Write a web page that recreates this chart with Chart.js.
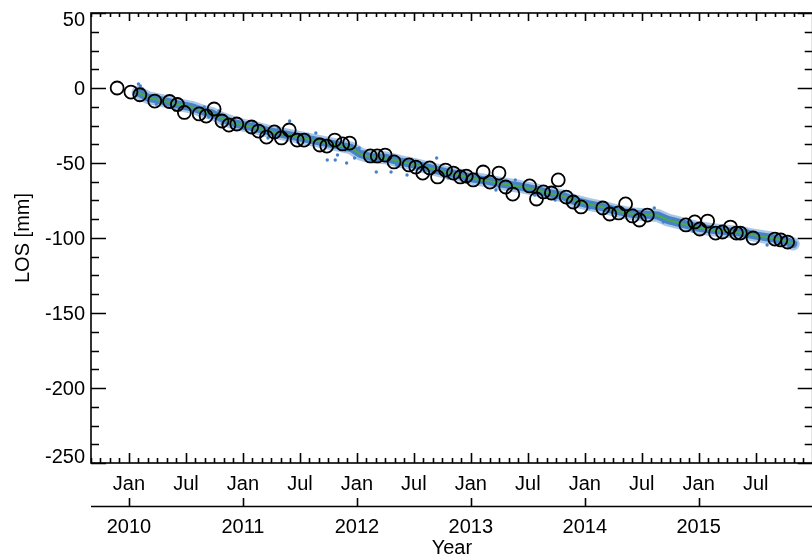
<!DOCTYPE html>
<html lang="en">
<head>
  <meta charset="UTF-8" />
  <title>LOS displacement</title>
  <style>
    html, body {
      margin: 0;
      padding: 0;
      background: #fff;
      overflow: hidden;
    }
    #wrap {
      width: 821px;
      height: 557px;
    }
  </style>
</head>
<body>
  <div id="wrap"><canvas id="chart" width="821" height="557"></canvas></div>

  <script src="https://cdn.jsdelivr.net/npm/chart.js"></script>
  <script>
    // axis ranges and tick labels
    const xMin = (2009 * 12 + 8) / 12;   // Sep 2009
    const xMax = 2016;
    const yMin = -250;
    const yMax = 50;
    const yTicks = [-250, -200, -150, -100, -50, 0, 50];
    const tickYears = [2010, 2011, 2012, 2013, 2014, 2015];
    const halfYearLabels = ['Jan', 'Jul'];

    // black circles (decimal year, mm)
    const circleYears = [
      2009.896, 2010.017, 2010.095, 2010.226, 2010.356, 2010.425, 2010.486, 2010.616, 2010.677, 2010.747,
      2010.816, 2010.877, 2010.946, 2011.076, 2011.137, 2011.207, 2011.276, 2011.337, 2011.406, 2011.476,
      2011.536, 2011.675, 2011.736, 2011.806, 2011.875, 2011.936, 2012.118, 2012.179, 2012.248, 2012.326,
      2012.457, 2012.517, 2012.578, 2012.639, 2012.708, 2012.778, 2012.847, 2012.908, 2012.960, 2013.021,
      2013.108, 2013.168, 2013.247, 2013.306, 2013.368, 2013.516, 2013.576, 2013.637, 2013.707, 2013.767,
      2013.837, 2013.898, 2013.967, 2014.158, 2014.219, 2014.297, 2014.358, 2014.418, 2014.479, 2014.549,
      2014.887, 2014.965, 2015.009, 2015.078, 2015.148, 2015.208, 2015.278, 2015.330, 2015.365, 2015.477,
      2015.668, 2015.720, 2015.780
    ];
    const circleValues = [
      0, -2.7, -4.5, -8.7, -9, -11, -16.3, -17.3, -18.7, -14,
      -22, -24.7, -24, -26, -28.7, -32.7, -29.3, -33.3, -28, -34.7,
      -34.7, -38, -38.7, -34.7, -37.3, -36.7, -45.3, -45.3, -44.7, -49.3,
      -51.3, -52.7, -56.7, -53.3, -59.3, -54.7, -56.7, -59.3, -58.7, -61.3,
      -56, -62.7, -56.7, -66, -70.7, -65.3, -74, -69.3, -70, -61.3,
      -72.7, -76, -79.3, -80, -84, -83.3, -77.3, -85.3, -88, -84.7,
      -91.3, -89.3, -94, -88.7, -96.7, -96, -92.7, -96.7, -96.7, -100,
      -100.7, -101.3, -102.7
    ];

    // smoothed trend (green) and blue band centre
    const trendYears = [
      2010.08, 2010.17, 2010.30, 2010.43, 2010.56, 2010.65, 2010.73, 2010.82, 2010.95, 2011.08,
      2011.21, 2011.34, 2011.47, 2011.60, 2011.73, 2011.86, 2011.95, 2012.03, 2012.12, 2012.25,
      2012.38, 2012.51, 2012.64, 2012.77, 2012.90, 2013.03, 2013.16, 2013.29, 2013.42, 2013.55,
      2013.68, 2013.81, 2013.90, 2014.03, 2014.16, 2014.29, 2014.42, 2014.55, 2014.64, 2014.73,
      2014.86, 2014.99, 2015.12, 2015.25, 2015.38, 2015.51, 2015.64, 2015.77, 2015.83
    ];
    const trendValues = [
      -3, -6.5, -8.5, -11, -13, -15.5, -17, -20.5, -24, -26,
      -28.5, -30.5, -32.5, -34.5, -36.5, -38.5, -40, -44, -46, -46.5,
      -49, -51, -53.5, -56, -58, -60.5, -62, -64, -65.5, -67.5,
      -70, -72, -75, -77.5, -79.5, -82, -84, -84.5, -85, -88,
      -90.5, -93, -94.5, -95.5, -96.5, -98.5, -100, -102, -104
    ];

    // scattered blue samples lying off the band
    const blueYears = [
      2010.083, 2010.10, 2010.12, 2010.14, 2010.24, 2010.33, 2010.40, 2010.51, 2010.66, 2010.70,
      2010.79, 2010.82, 2010.92, 2011.00, 2011.09, 2011.15, 2011.22, 2011.31, 2011.41, 2011.48,
      2011.57, 2011.64, 2011.74, 2011.81, 2011.83, 2011.90, 2011.91, 2011.98, 2012.02, 2012.06,
      2012.17, 2012.30, 2012.35, 2012.44, 2012.70, 2012.80, 2012.96, 2013.22, 2013.39, 2013.56,
      2013.74, 2013.91, 2014.04, 2014.43, 2014.61, 2014.69, 2014.95, 2015.43, 2015.60, 2015.79
    ];
    const blueValues = [
      2.7, 1.3, -0.7, -6, -10.7, -8, -14.7, -10.7, -12.7, -19.3,
      -15.3, -24, -21.3, -26.7, -23.3, -25.3, -33.3, -26.7, -22, -36,
      -31.3, -30, -48, -48, -44.7, -41.3, -50, -46.7, -40, -42.7,
      -56, -56, -51.3, -58, -46.7, -60, -62, -68, -61.3, -71.3,
      -74.7, -73.3, -80, -81.3, -80, -89.3, -95.3, -95.3, -104.7, -106
    ];

    const toPoints = (xs, ys) => xs.map((x, i) => ({ x: x, y: ys[i] }));

    const FONT = '20px "Liberation Sans", Arial, Helvetica, sans-serif';

    // IDL style axes: inward ticks on all sides, second year axis below
    const axesPlugin = {
      id: 'idlAxes',
      afterDraw(chart) {
        const ctx = chart.ctx;
        const a = chart.chartArea;
        const xs = chart.scales.x;
        const ys = chart.scales.y;
        ctx.save();
        ctx.strokeStyle = '#000';
        ctx.fillStyle = '#000';
        ctx.lineWidth = 1.6;
        ctx.strokeRect(a.left, a.top, a.right - a.left, a.bottom - a.top);

        ctx.beginPath();
        // y ticks, minor every 12.5
        for (let k = 0; k <= (yMax - yMin) / 12.5; k++) {
          const v = yMin + k * 12.5;
          const major = v % 50 === 0;
          const len = major ? 15 : 8;
          const py = Math.round(ys.getPixelForValue(v)) + 0.5;
          ctx.moveTo(a.left, py); ctx.lineTo(a.left + len, py);
          ctx.moveTo(a.right, py); ctx.lineTo(a.right - len, py);
        }
        // monthly x ticks
        for (let k = 2009 * 12 + 8; k <= xMax * 12; k++) {
          const m = k % 12;
          const major = m === 0 || m === 6;
          const px = Math.round(xs.getPixelForValue(k / 12)) + 0.5;
          ctx.moveTo(px, a.bottom); ctx.lineTo(px, a.bottom - (major ? 10 : 5));
          ctx.moveTo(px, a.top); ctx.lineTo(px, a.top + (major ? 8 : 4));
        }
        ctx.stroke();

        // y tick labels
        ctx.font = FONT;
        ctx.textAlign = 'right';
        ctx.textBaseline = 'alphabetic';
        yTicks.forEach(v => {
          let cy = ys.getPixelForValue(v);
          cy = Math.min(Math.max(cy, a.top + 6), a.bottom - 7);
          ctx.fillText(String(v), a.left - 6, cy + 7);
        });

        // Jan / Jul labels
        ctx.textAlign = 'center';
        tickYears.forEach(yr => {
          halfYearLabels.forEach((lab, i) => {
            const px = xs.getPixelForValue(yr + i * 0.5);
            ctx.fillText(lab, px, 490);
          });
        });

        // second axis with years
        const axisY = 506;
        ctx.beginPath();
        ctx.moveTo(a.left, axisY + 0.5);
        ctx.lineTo(a.right, axisY + 0.5);
        tickYears.forEach(yr => {
          const px = Math.round(xs.getPixelForValue(yr)) + 0.5;
          ctx.moveTo(px, axisY);
          ctx.lineTo(px, axisY - 8);
        });
        ctx.stroke();
        tickYears.forEach(yr => {
          ctx.fillText(String(yr), xs.getPixelForValue(yr), 533);
        });
        ctx.fillText('Year', (a.left + a.right) / 2, 554);

        // y title
        ctx.translate(29, (a.top + a.bottom) / 2);
        ctx.rotate(-Math.PI / 2);
        ctx.fillText('LOS [mm]', 0, 0);
        ctx.restore();
      }
    };

    const BLUE = 'rgb(70, 130, 200)';
    const BLUE_HAZE = 'rgba(70, 130, 200, 0.45)';
    const GREEN = 'rgb(76, 168, 72)';

    new Chart(document.getElementById('chart').getContext('2d'), {
      type: 'scatter',
      data: {
        datasets: [
          {
            label: 'circles',
            data: toPoints(circleYears, circleValues),
            pointRadius: 6.5,
            pointBorderWidth: 1.8,
            pointBorderColor: '#000',
            pointBackgroundColor: 'rgba(0,0,0,0)',
            order: 0
          },
          {
            label: 'trend',
            type: 'line',
            data: toPoints(trendYears, trendValues),
            borderColor: GREEN,
            borderWidth: 2,
            pointRadius: 0,
            fill: false,
            order: 1
          },
          {
            label: 'samples',
            data: toPoints(blueYears, blueValues),
            pointRadius: 1.7,
            pointBorderWidth: 0,
            pointBackgroundColor: BLUE,
            order: 2
          },
          {
            label: 'band',
            type: 'line',
            data: toPoints(trendYears, trendValues),
            borderColor: BLUE,
            borderWidth: 8,
            borderCapStyle: 'round',
            borderJoinStyle: 'round',
            pointRadius: 0,
            fill: false,
            order: 3
          },
          {
            label: 'band haze',
            type: 'line',
            data: toPoints(trendYears, trendValues),
            borderColor: BLUE_HAZE,
            borderWidth: 13,
            borderCapStyle: 'round',
            borderJoinStyle: 'round',
            pointRadius: 0,
            fill: false,
            order: 4
          }
        ]
      },
      options: {
        responsive: false,
        animation: false,
        layout: { padding: { left: 91, top: 13, right: 0, bottom: 94 } },
        scales: {
          x: { type: 'linear', min: xMin, max: xMax, display: false },
          y: { type: 'linear', min: yMin, max: yMax, display: false }
        },
        plugins: {
          legend: { display: false },
          tooltip: { enabled: false }
        }
      },
      plugins: [axesPlugin]
    });
  </script>
</body>
</html>
